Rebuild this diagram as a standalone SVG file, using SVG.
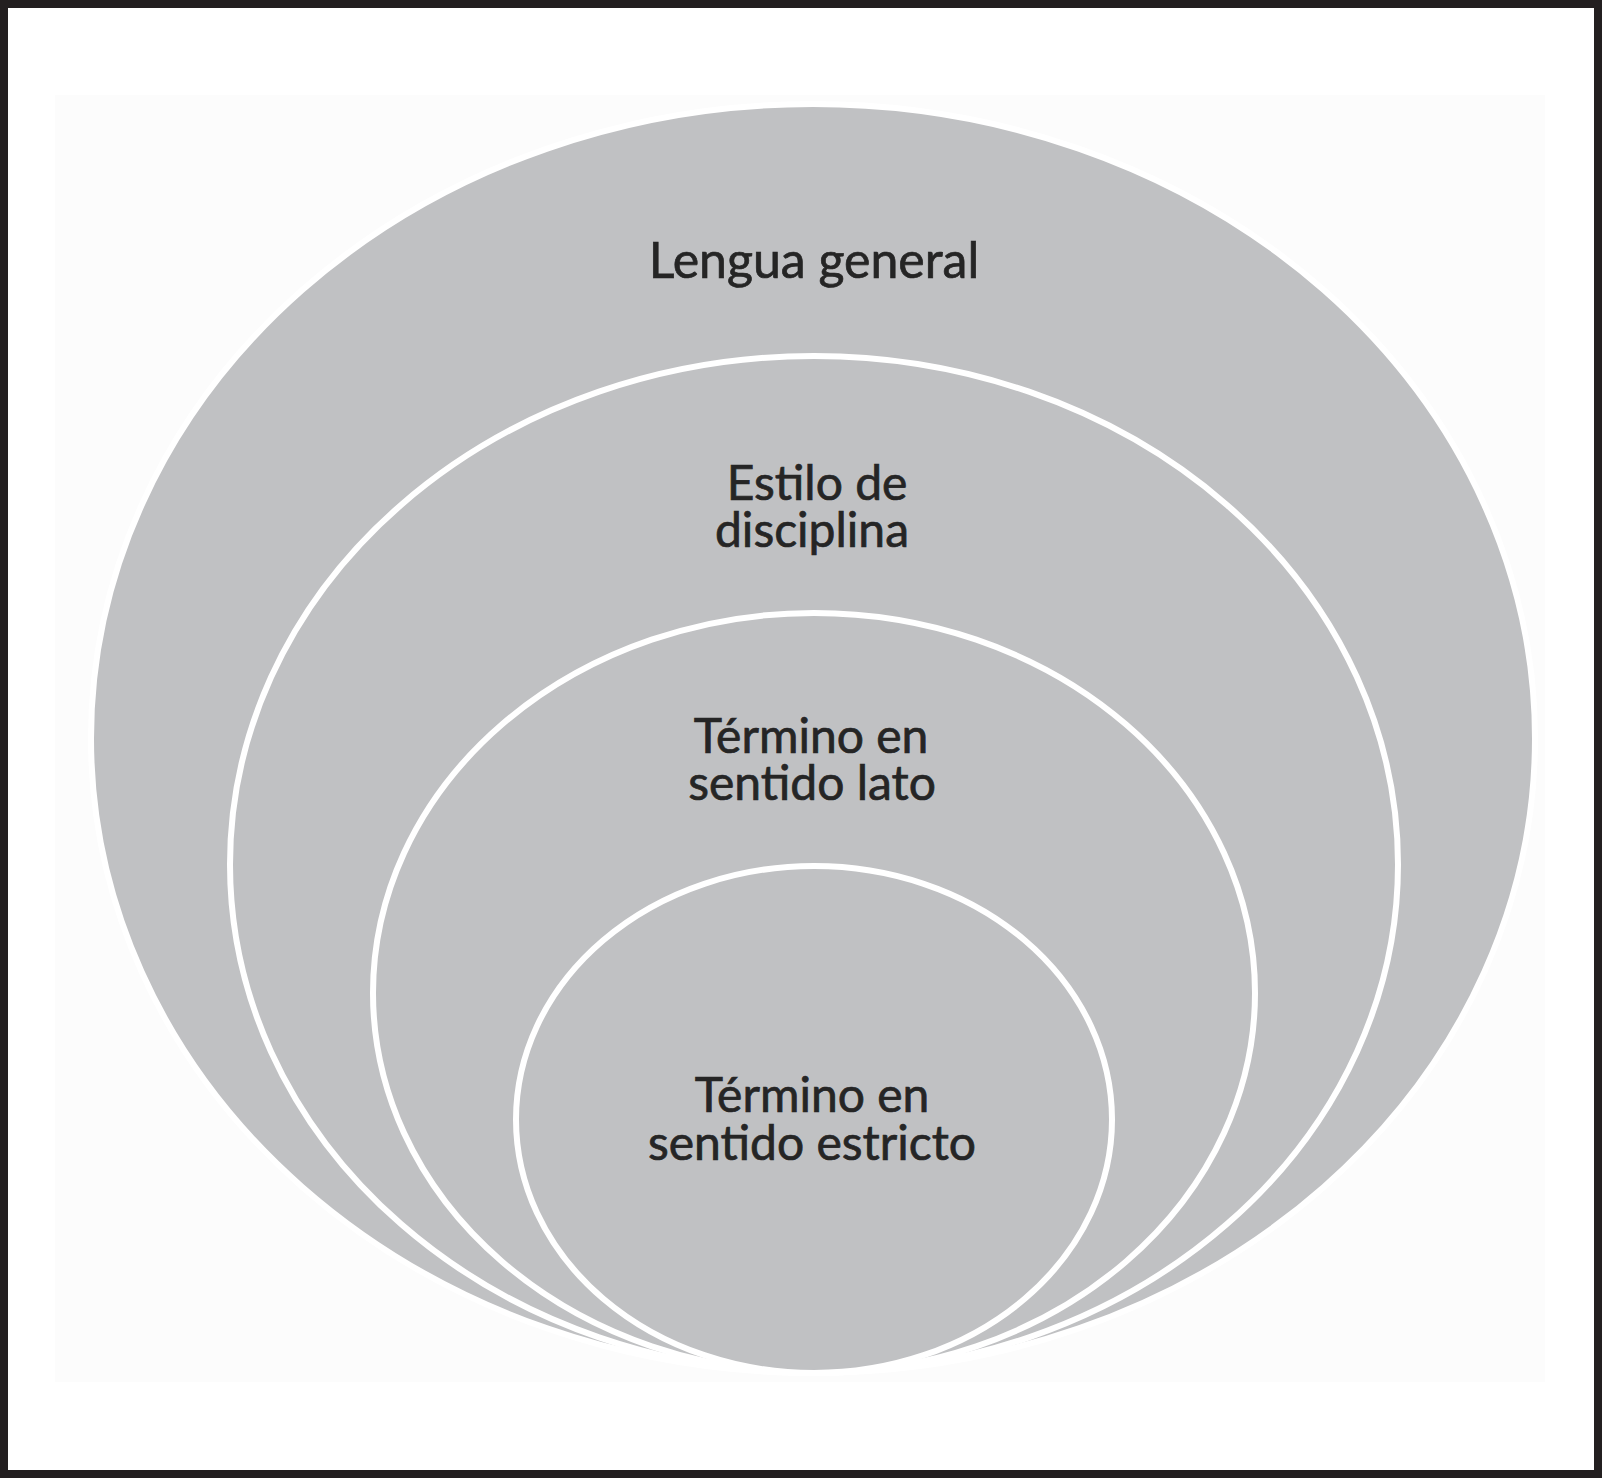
<svg xmlns="http://www.w3.org/2000/svg" width="1602" height="1478" viewBox="0 0 1602 1478">
<style>
.ring{fill:#c0c1c3;stroke:#ffffff;stroke-width:6}
.lbl{font-family:Lato,"Open Sans","Liberation Sans",sans-serif;font-size:48px;fill:#252525;stroke:#252525;stroke-width:0.7;text-anchor:middle}
.big{font-size:50px}
</style>
<rect x="0" y="0" width="1602" height="1478" fill="#ffffff"/>
<rect x="55" y="95" width="1490" height="1287" fill="#fcfcfc"/>
<g id="lengua-general">
<ellipse class="ring" cx="813" cy="738.5" rx="722" ry="634.5"/>
<text class="lbl big" x="814" y="278">Lengua general</text>
</g>
<g id="estilo-disciplina">
<ellipse class="ring" cx="814" cy="864.5" rx="584" ry="508.5"/>
<text class="lbl" x="817" y="500">Estilo de</text>
<text class="lbl" x="812" y="547">disciplina</text>
</g>
<g id="termino-lato">
<ellipse class="ring" cx="814" cy="993" rx="441" ry="380"/>
<text class="lbl" x="811" y="753">Término en</text>
<text class="lbl" x="812" y="800">sentido lato</text>
</g>
<g id="termino-estricto">
<ellipse class="ring" cx="814" cy="1119.5" rx="298" ry="253.5"/>
<text class="lbl" x="812" y="1112">Término en</text>
<text class="lbl" x="812" y="1160">sentido estricto</text>
</g>
<g id="connectors"></g>
<rect x="4" y="4" width="1594" height="1470" fill="none" stroke="#231f20" stroke-width="8"/>
</svg>
